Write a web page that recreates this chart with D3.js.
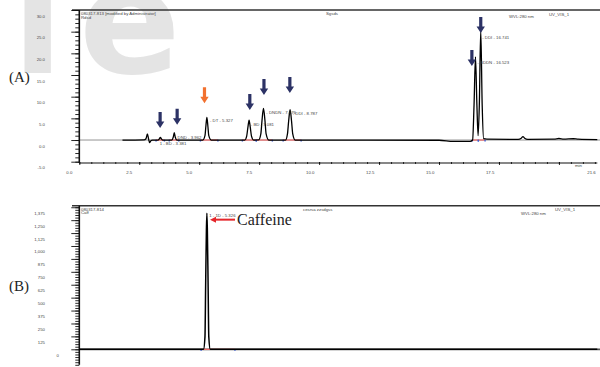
<!DOCTYPE html>
<html>
<head>
<meta charset="utf-8">
<script src="https://cdn.jsdelivr.net/npm/d3@7"></script>
<style>
  body { margin: 0; background: #fff; }
  svg { display: block; }
  .tiny { font-family: "Liberation Sans", Arial, sans-serif; font-size: 4.3px; fill: #444; }
  .panel-tag { font-family: "Liberation Serif", "Times New Roman", serif; font-size: 15px; fill: #222; }
</style>
</head>
<body>
<div id="chart"></div>
<script>
// --- Data ---
// panel A trace: [time (min), signal]
const traceA = [
  [1.8, 0], [2.7, 0.05], [2.78, 0.3], [2.84, 1.4], [2.89, 0.2], [2.93, -0.6], [2.98, -0.2], [3.05, 0],
  [3.28, 0], [3.34, 0.3], [3.38, 0.6], [3.42, 0.3], [3.48, 0],
  [3.85, 0], [3.92, 0.7], [3.96, 1.7], [4.0, 0.7], [4.07, 0],
  [5.15, 0], [5.24, 1.0], [5.28, 3.3], [5.32, 5.2], [5.36, 3.3], [5.4, 1.0], [5.5, 0],
  [6.9, 0], [6.98, 0.9], [7.03, 2.9], [7.08, 4.6], [7.13, 2.9], [7.18, 0.9], [7.27, 0],
  [7.48, 0.02], [7.57, 1.4], [7.62, 4.6], [7.68, 7.3], [7.74, 4.6], [7.79, 1.4], [7.9, 0],
  [8.6, 0], [8.68, 1.4], [8.73, 4.4], [8.79, 7.0], [8.85, 4.4], [8.9, 1.4], [9.0, 0],
  [15.0, -0.05], [15.6, -0.3], [16.3, -0.3], [16.4, 0], [16.46, 8.0], [16.52, 19.2], [16.58, 8.0],
  [16.63, 1.0], [16.68, 8.0], [16.74, 25.3], [16.8, 8.0], [16.86, 0.3], [17.0, 0.2],
  [18.3, 0.15], [18.43, 0.4], [18.5, 0.8], [18.57, 0.4], [18.7, 0.15], [19.8, 0.2], [20.0, 0.35],
  [20.2, 0.2], [20.6, 0.3], [20.8, 0.2], [21.6, 0.1]
];
// integration baselines (start, end) in min
const baselinesA = [[3.2, 3.55], [3.75, 4.15], [5.05, 5.78], [6.8, 7.38], [7.38, 8.05], [8.5, 9.25], [16.38, 16.64], [16.64, 16.92]];
// peak annotations: [time, signal, text]
const peakLabelsA = [
  [3.35, -1.2, "1 - BD - 3.381"], [4.1, 0.3, "DND - 3.962"], [5.45, 4.1, "- DT - 5.327"],
  [7.15, 3.2, "- BD - 7.081"], [7.8, 6.0, "- DNDN - 7.676"], [8.9, 5.8, "- DDI - 8.787"],
  [16.6, 17.6, "- BDDN - 16.523"], [16.8, 23.3, "- DDI - 16.741"]
];
// arrows: [time, tip signal]
const arrowsA = [[3.37, 2.8], [4.08, 3.5], [7.11, 6.9], [7.7, 10.4], [8.78, 10.85], [16.37, 17.1], [16.74, 24.7]];
const arrowOrangeA = [[5.22, 8.5]];

const yMajorA = [-5, 0, 5, 10, 15, 20, 25, 30];
const yLabelsA = ["-5.0", "0.0", "5.0", "10.0", "15.0", "20.0", "25.0", "30.0"];
const xMajor = [0, 2.5, 5, 7.5, 10, 12.5, 15, 17.5, 20];
const xLabels = ["0.0", "2.5", "5.0", "7.5", "10.0", "12.5", "15.0", "17.5", ""];
const xEndLabel = [21.6, "21.6"];

// panel B
const traceB = [[0, 0], [5.18, 0], [5.24, 120], [5.27, 650], [5.3, 1150], [5.32, 1318], [5.34, 1150], [5.37, 650], [5.4, 120], [5.46, 0], [21.6, 0]];
const baselinesB = [[5.08, 6.49]];
const yMajorB = [0, 125, 250, 375, 500, 625, 750, 875, 1000, 1125, 1250, 1375];
const yLabelsB = ["0", "125", "250", "375", "500", "625", "750", "875", "1,000", "1,125", "1,250", "1,375"];

// --- Layout ---
const W = 600, H = 367;
const xLeft = 79.3, xRight = 597.3;
const navy = "#2c3265", orange = "#f2712f", red = "#e5262b";

const svg = d3.select("#chart").append("svg").attr("width", W).attr("height", H);

// watermark (cropped word behind the chart)
const wm = svg.append("g").attr("font-family", "DejaVu Sans").attr("font-weight", "bold")
  .attr("font-size", 150).attr("fill", "#e4e4e4");
wm.append("text").attr("x", 12).attr("y", 73).text("l");
wm.append("text").attr("x", 79).attr("y", 73).text("e");

const x = d3.scaleLinear().domain([0, 21.6]).range([xLeft, xRight]);

function drawPanel(o) {
  const y = d3.scaleLinear().domain(o.yDomain).range(o.yRange);
  const g = svg.append("g");

  // frame top
  g.append("line").attr("x1", 72).attr("x2", 600).attr("y1", o.yRange[1]).attr("y2", o.yRange[1])
    .attr("stroke", "#333").attr("stroke-width", 1.5);

  // zero line
  g.append("line").attr("x1", xLeft).attr("x2", 600).attr("y1", y(0)).attr("y2", y(0))
    .attr("stroke", o.zeroColor).attr("stroke-width", o.zeroWidth);

  // y axis
  const minor = d3.range(o.yDomain[0], o.yDomain[1], o.minorStep).map(v => Math.ceil(v / o.minorStep) * o.minorStep);
  const yMinorAxis = d3.axisLeft(y).tickValues(minor).tickSize(4).tickFormat("");
  const yMajorAxis = d3.axisLeft(y).tickValues(o.yMajor).tickSize(8).tickFormat("");
  [yMinorAxis, yMajorAxis].forEach(ax => {
    const a = g.append("g").attr("transform", `translate(${xLeft},0)`).call(ax);
    a.select(".domain").remove();
    a.selectAll("line").attr("stroke", "#111").attr("stroke-width", 0.9);
  });
  g.append("line").attr("x1", xLeft).attr("x2", xLeft).attr("y1", o.yRange[1]).attr("y2", o.yRange[0])
    .attr("stroke", "#111").attr("stroke-width", 1.6);
  g.selectAll(".ylab").data(o.yMajor).enter().append("text").attr("class", "tiny")
    .attr("x", d => d === 0 && o.zeroLabelX ? o.zeroLabelX : o.labelX)
    .attr("y", d => y(d) + 7.5).attr("text-anchor", "end")
    .text((d, i) => o.yLabels[i]);

  // header texts
  o.header.forEach(h => g.append("text").attr("class", "tiny").attr("x", h[0]).attr("y", h[1]).text(h[2]));

  // integration baselines
  o.baselines.forEach(b => {
    g.append("line").attr("x1", x(b[0])).attr("x2", x(b[1])).attr("y1", y(0)).attr("y2", y(0))
      .attr("stroke", "#f06a6a").attr("stroke-width", 1.2);
    b.forEach(t => g.append("rect").attr("x", x(t) - 0.7).attr("y", y(0) - 0.3).attr("width", 1.4).attr("height", 1.8)
      .attr("fill", "#4060d0"));
  });

  // trace
  const line = d3.line().x(d => x(d[0])).y(d => y(d[1])).curve(d3.curveMonotoneX);
  g.append("path").datum(o.trace).attr("d", line).attr("fill", "none")
    .attr("stroke", "#000").attr("stroke-width", o.traceWidth).attr("stroke-linejoin", "round");

  // peak labels
  o.peakLabels.forEach(p => g.append("text").attr("class", "tiny").attr("x", x(p[0])).attr("y", y(p[1])).text(p[2]));

  // panel tag
  g.append("text").attr("class", "panel-tag").attr("x", 9).attr("y", o.tagY).text(o.tag);
  return y;
}

function downArrow(xp, yp, color) {
  // tip at (xp, yp)
  const len = 16, head = 6.5, hw = 4.2, sw = 1.6;
  const pts = [[xp - sw, yp - len], [xp + sw, yp - len], [xp + sw, yp - head], [xp + hw, yp - head],
    [xp, yp], [xp - hw, yp - head], [xp - sw, yp - head]];
  svg.append("polygon").attr("points", pts.map(p => p.join(",")).join(" ")).attr("fill", color);
}

// Panel A
const yA = drawPanel({
  yDomain: [-5.3, 30], yRange: [163, 10], minorStep: 1, yMajor: yMajorA, yLabels: yLabelsA, labelX: 45,
  zeroColor: "#777", zeroWidth: 0.8, trace: traceA, traceWidth: 1.3,
  baselines: baselinesA, peakLabels: peakLabelsA, tag: "(A)", tagY: 82,
  header: [[81, 15, "080317-813 [modified by Administrator]"], [81, 18.5, "Rdsd"],
    [326, 15, "Sgsds"], [509, 18, "WVL:280 nm"], [549, 15.5, "UV_VIS_1"]]
});

// x axis for panel A
{
  const minorX = d3.range(0, 21.6, 0.5);
  const axMinor = d3.axisBottom(x).tickValues(minorX).tickSize(2).tickFormat("");
  const axMajor = d3.axisBottom(x).tickValues(xMajor).tickSize(3).tickFormat("");
  [axMinor, axMajor].forEach(ax => {
    const a = svg.append("g").attr("transform", "translate(0,162)").call(ax);
    a.select(".domain").remove();
    a.selectAll("line").attr("stroke", "#111").attr("stroke-width", 0.9);
  });
  svg.append("line").attr("x1", xLeft).attr("x2", xRight).attr("y1", 163).attr("y2", 163)
    .attr("stroke", "#111").attr("stroke-width", 1.2);
  svg.selectAll(".xlab").data(xMajor).enter().append("text").attr("class", "tiny")
    .attr("x", d => x(d) - 13).attr("y", 174).text((d, i) => xLabels[i]);
  svg.append("text").attr("class", "tiny").attr("x", x(xEndLabel[0]) - 10).attr("y", 174).text(xEndLabel[1]);
  svg.append("text").attr("class", "tiny").attr("x", 575).attr("y", 167).text("min");
}

arrowsA.forEach(a => downArrow(x(a[0]), yA(a[1]), navy));
arrowOrangeA.forEach(a => downArrow(x(a[0]), yA(a[1]), orange));

// Panel B
const yB = drawPanel({
  yDomain: [-150, 1390], yRange: [364.8, 205.7], minorStep: 25, yMajor: yMajorB, yLabels: yLabelsB,
  labelX: 45, zeroLabelX: 59,
  zeroColor: "#555", zeroWidth: 1.8, trace: traceB, traceWidth: 1.5,
  baselines: baselinesB, peakLabels: [[5.42, 1280, "1 - 1D - 5.326"]], tag: "(B)", tagY: 291,
  header: [[81, 210.5, "080317-814"], [81, 213.5, "Caff"], [303, 210.5, "cesrsa zzsdgss"],
    [521, 214.5, "WVL:280 nm"], [555, 210.5, "UV_VIS_1"]]
});

// caffeine pointer
{
  const tipX = x(5.45), yy = yB(1255);
  svg.append("line").attr("x1", tipX + 5).attr("x2", tipX + 25).attr("y1", yy).attr("y2", yy)
    .attr("stroke", red).attr("stroke-width", 2);
  svg.append("polygon").attr("points", `${tipX},${yy} ${tipX + 6},${yy - 3} ${tipX + 6},${yy + 3}`).attr("fill", red);
  svg.append("text").attr("class", "panel-tag").attr("font-size", 16).style("font-size", "16px")
    .attr("x", tipX + 27).attr("y", yy + 5).text("Caffeine");
}
</script>
</body>
</html>
